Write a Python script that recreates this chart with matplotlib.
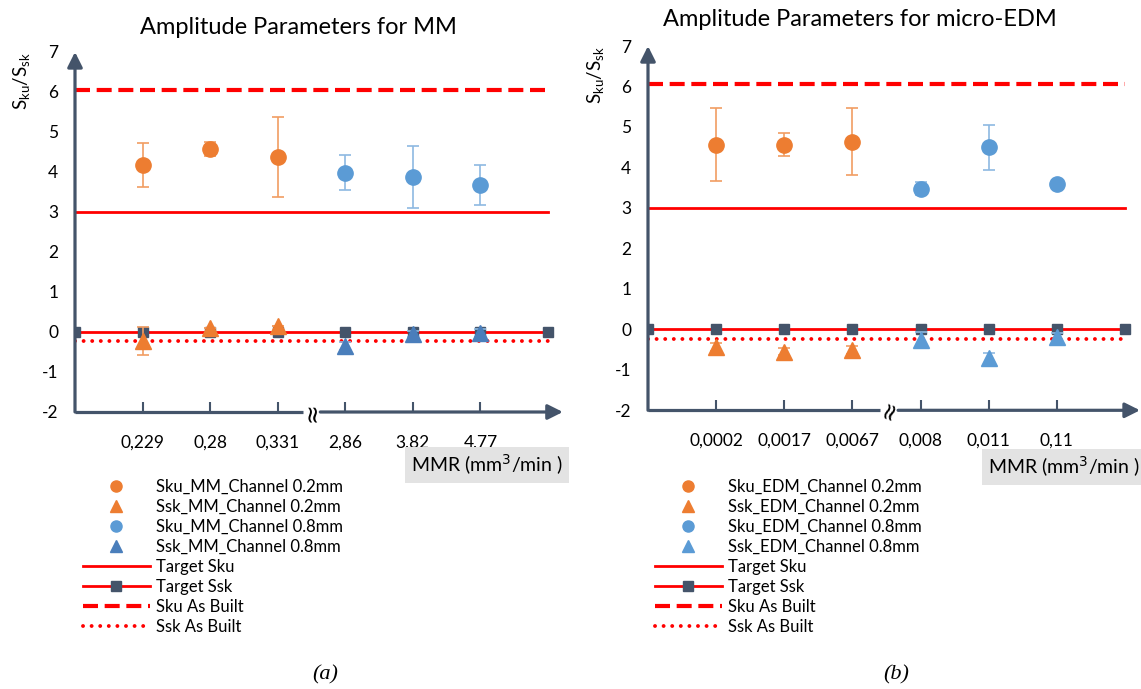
import matplotlib
matplotlib.use("Agg")
import matplotlib.pyplot as plt
import numpy as np
from matplotlib.lines import Line2D

plt.rcParams['font.family'] = ['Lato', 'DejaVu Sans']

# ---- data ----
mm_ticks = ['', '0,229', '0,28', '0,331', '2,86', '3,82', '4,77', '']
edm_ticks = ['', '0,0002', '0,0017', '0,0067', '0,008', '0,011', '0,11', '']

# MM panel (categories 1..3 -> 0.2mm channel, 4..6 -> 0.8mm channel)
mm_sku_02 = [4.18, 4.57, 4.37]
mm_sku_02_err = [0.55, 0.18, 1.0]
mm_ssk_02 = [-0.22, 0.10, 0.15]
mm_ssk_02_err = [0.35, 0.0, 0.0]
mm_sku_08 = [3.98, 3.88, 3.67]
mm_sku_08_err = [0.44, 0.78, 0.50]
mm_ssk_08 = [-0.35, -0.05, -0.03]
mm_ssk_08_err = [0.10, 0.08, 0.10]

# micro-EDM panel
edm_sku_02 = [4.56, 4.56, 4.64]
edm_sku_02_err = [0.90, 0.28, 0.82]
edm_ssk_02 = [-0.43, -0.55, -0.50]
edm_ssk_02_err = [0.10, 0.08, 0.10]
edm_sku_08 = [3.48, 4.50, 3.60]
edm_sku_08_err = [0.16, 0.56, 0.10]
edm_ssk_08 = [-0.26, -0.72, -0.20]
edm_ssk_08_err = [0.20, 0.13, 0.10]

target_sku = [3, 3, 3, 3, 3, 3, 3, 3]
target_ssk = [0, 0, 0, 0, 0, 0, 0, 0]
asbuilt_sku = [6.05, 6.05, 6.05, 6.05, 6.05, 6.05, 6.05, 6.05]
asbuilt_ssk = [-0.23, -0.23, -0.23, -0.23, -0.23, -0.23, -0.23, -0.23]

ORANGE = '#ED7D31'
LBLUE = '#5B9BD5'
DBLUE = '#4A7EBB'
SLATE = '#44546A'
RED = '#FF0000'

DASH = (0, (3.6, 1.6))
DOT = (0, (0.01, 2.2))


def draw_panel(ax, ticks, sku02, sku02e, ssk02, ssk02e, sku08, sku08e,
               ssk08, ssk08e, ssk08_color, brk_x, brk_rot):
    pos = np.arange(len(ticks))
    left = pos[1:4]
    right = pos[4:7]

    ax.plot(pos, asbuilt_sku, color=RED, lw=3, ls=DASH, zorder=2)
    ax.plot(pos, asbuilt_ssk, color=RED, lw=2.8, ls=DOT,
            dash_capstyle='round', zorder=2)
    ax.plot(pos, target_sku, color=RED, lw=2, zorder=2)
    ax.plot(pos, target_ssk, color=RED, lw=2, marker='s', ms=7,
            mfc=SLATE, mec=SLATE, zorder=3)

    ekw = dict(elinewidth=1.2, capsize=4.5, capthick=1.2, ms=11, ls='none', zorder=4)
    ax.errorbar(left, sku02, yerr=sku02e, fmt='o', color=ORANGE, ecolor='#F19D62', **ekw)
    ax.errorbar(right, sku08, yerr=sku08e, fmt='o', color=LBLUE, ecolor='#8DB9E2', **ekw)
    ax.errorbar(left, ssk02, yerr=ssk02e, fmt='^', color=ORANGE, ecolor='#F19D62', **ekw)
    ax.errorbar(right, ssk08, yerr=ssk08e, fmt='^', color=ssk08_color, ecolor='#8DB9E2', **ekw)

    ax.set_xlim(0, 7.22)
    ax.set_ylim(-2, 7.1)
    for s in ax.spines.values():
        s.set_visible(False)
    ax.set_yticks(range(-2, 8))
    ax.set_yticklabels([str(v) for v in range(-2, 8)])
    ax.tick_params(axis='y', length=0, pad=12, labelsize=12.5)
    ax.set_xticks(pos[1:7])
    ax.set_xticklabels(ticks[1:7])
    ax.tick_params(axis='x', direction='in', length=7, width=1.5, color=SLATE,
                   pad=16, labelsize=12.5)

    # axes drawn as arrows, with a break on the x axis
    akw = dict(arrowstyle='-|>,head_length=0.9,head_width=0.45', color=SLATE, lw=2.3,
               shrinkA=0, shrinkB=0)
    ax.annotate('', xy=(0, 7.0), xytext=(0, -2), xycoords='data',
                arrowprops=akw, annotation_clip=False)
    ax.plot([0, brk_x - 0.14], [-2, -2], color=SLATE, lw=2.3, clip_on=False,
            solid_capstyle='butt')
    ax.annotate('', xy=(7.22, -2), xytext=(brk_x + 0.12, -2), xycoords='data',
                arrowprops=akw, annotation_clip=False)
    ax.text(brk_x, -2, '\u2248', rotation=brk_rot, ha='center', va='center',
            fontsize=17, color='black', family='DejaVu Sans')

    handles = [
        Line2D([], [], ls='none', marker='o', color=ORANGE, ms=8),
        Line2D([], [], ls='none', marker='^', color=ORANGE, ms=8),
        Line2D([], [], ls='none', marker='o', color=LBLUE, ms=8),
        Line2D([], [], ls='none', marker='^', color=ssk08_color, ms=8),
        Line2D([], [], color=RED, lw=2),
        Line2D([], [], color=RED, lw=2, marker='s', ms=7, mfc=SLATE, mec=SLATE),
        Line2D([], [], color=RED, lw=3, ls=DASH),
        Line2D([], [], color=RED, lw=2.8, ls=DOT, dash_capstyle='round'),
    ]
    return handles


fig = plt.figure(figsize=(11.41, 6.89), dpi=100)
W, H = 1141.0, 689.0

ax1 = fig.add_axes([75 / W, 1 - 412 / H, (473 / 7 * 7.22) / W, 364 / H])
ax1.patch.set_alpha(0)
h1 = draw_panel(ax1, mm_ticks, mm_sku_02, mm_sku_02_err, mm_ssk_02, mm_ssk_02_err,
                mm_sku_08, mm_sku_08_err, mm_ssk_08, mm_ssk_08_err, DBLUE, 3.51, 90)

ax2 = fig.add_axes([648 / W, 1 - 410.3 / H, (477 / 7 * 7.22) / W, 368.3 / H])
ax2.patch.set_alpha(0)
h2 = draw_panel(ax2, edm_ticks, edm_sku_02, edm_sku_02_err, edm_ssk_02, edm_ssk_02_err,
                edm_sku_08, edm_sku_08_err, edm_ssk_08, edm_ssk_08_err, LBLUE, 3.55, 70)

labels_mm = ['Sku_MM_Channel 0.2mm', 'Ssk_MM_Channel 0.2mm', 'Sku_MM_Channel 0.8mm',
             'Ssk_MM_Channel 0.8mm', 'Target Sku', 'Target Ssk', 'Sku As Built',
             'Ssk As Built']
labels_edm = ['Sku_EDM_Channel 0.2mm', 'Ssk_EDM_Channel 0.2mm', 'Sku_EDM_Channel 0.8mm',
              'Ssk_EDM_Channel 0.8mm', 'Target Sku', 'Target Ssk', 'Sku As Built',
              'Ssk As Built']

lkw = dict(loc='upper left', frameon=False, fontsize=12, handlelength=4.0,
           handletextpad=0.4, labelspacing=0.24, borderpad=0, borderaxespad=0,
           numpoints=1)
fig.legend(h1, labels_mm, bbox_to_anchor=(83 / W, 1 - 479 / H), **lkw)
fig.legend(h2, labels_edm, bbox_to_anchor=(655 / W, 1 - 479 / H), **lkw)

fig.text(298 / W, 1 - 27 / H, 'Amplitude Parameters for MM', ha='center', va='center',
         fontsize=17)
fig.text(860 / W, 1 - 20 / H, 'Amplitude Parameters for micro-EDM', ha='center',
         va='center', fontsize=17)

ylab = r'$\mathregular{S_{ku}/S_{sk}}$'
fig.text(21 / W, 1 - 81 / H, ylab, rotation=90, ha='center', va='center', fontsize=13.5)
fig.text(595 / W, 1 - 75 / H, ylab, rotation=90, ha='center', va='center', fontsize=13.5)

xlab = r'MMR (mm$^3$/min )'
bb = dict(boxstyle='square,pad=0.3', facecolor='#E3E3E3', edgecolor='none')
fig.text(411 / W, 1 - 465 / H, xlab, ha='left', va='center', fontsize=14, bbox=bb)
fig.text(988 / W, 1 - 467 / H, xlab, ha='left', va='center', fontsize=14, bbox=bb)

fig.text(325 / W, 1 - 675 / H, '(a)', ha='center', va='center', fontsize=16,
         family='Liberation Serif', style='italic')
fig.text(896 / W, 1 - 675 / H, '(b)', ha='center', va='center', fontsize=16,
         family='Liberation Serif', style='italic')

fig.savefig('out.png', dpi=100)
